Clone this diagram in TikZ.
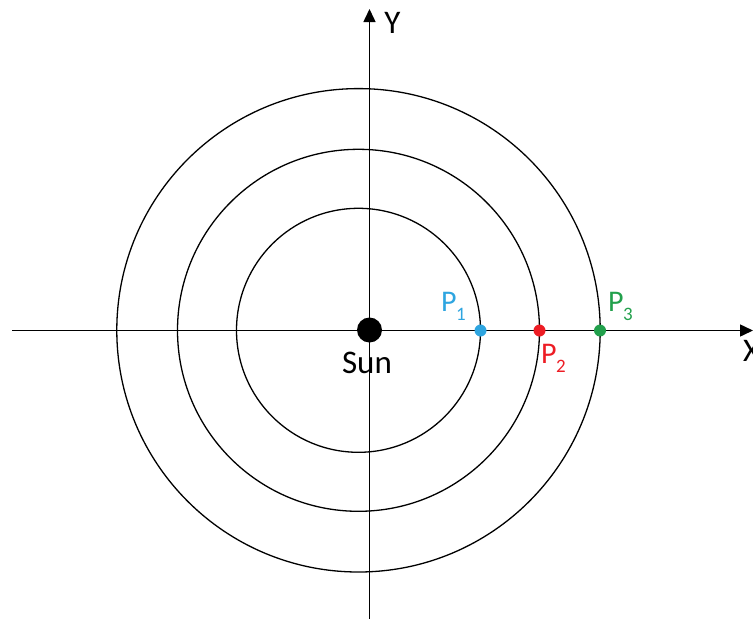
\documentclass[tikz,border=0pt]{standalone}
\usepackage{fontspec}
\setmainfont{Carlito}
\usetikzlibrary{arrows.meta}
\definecolor{pblue}{RGB}{46,165,224}
\definecolor{pred}{RGB}{237,28,36}
\definecolor{pgreen}{RGB}{34,160,76}
\newcommand\psub[1]{P\kern-0.5pt\raisebox{-9pt}{\fontsize{19}{19}\selectfont #1}}
\begin{document}
\begin{tikzpicture}[x=1pt,y=-1pt,
  axis/.style={line width=1.5pt,-{Triangle[width=12pt,length=13pt]}},
  orbit/.style={line width=1.3pt},
  dot/.style={circle,inner sep=0pt,minimum size=12pt},
  biglbl/.style={font=\fontsize{33}{33}\selectfont,inner sep=0pt},
  plbl/.style={font=\fontsize{30}{30}\selectfont,anchor=base west,inner sep=0pt}]
\useasboundingbox (0,0) rectangle (753,619);
% axes
\coordinate (xs) at (12,330.5);
\coordinate (xe) at (753,330.5);
\coordinate (ys) at (369.5,619);
\coordinate (ye) at (369.5,9);
\draw[axis] (xs) -- (xe);
\draw[axis] (ys) -- (ye);
% orbits
\coordinate (c) at (358.5,330.3);
\draw[orbit] (c) circle[radius=122pt];
\draw[orbit] (c) circle[radius=181pt];
\draw[orbit] (c) circle[radius=241.7pt];
% sun
\node[circle,fill=black,inner sep=0pt,minimum size=25pt] (sun) at (369.5,330) {};
\node[biglbl,anchor=base] (sunlbl) at (367,373) {Sun};
\node[biglbl,anchor=base] (ylbl) at (392.5,33) {Y};
\node[biglbl,anchor=base west] (xlbl) at (743,361) {X};
% planets
\node[dot,fill=pblue] (p1) at (480.5,330.5) {};
\node[dot,fill=pred] (p2) at (539.5,330.5) {};
\node[dot,fill=pgreen] (p3) at (600,330.5) {};
\node[plbl,text=pblue] (p1l) at (441,311) {\psub{1}};
\node[plbl,text=pred] (p2l) at (541,363) {\psub{2}};
\node[plbl,text=pgreen] (p3l) at (608,311) {\psub{3}};
\end{tikzpicture}
\end{document}
